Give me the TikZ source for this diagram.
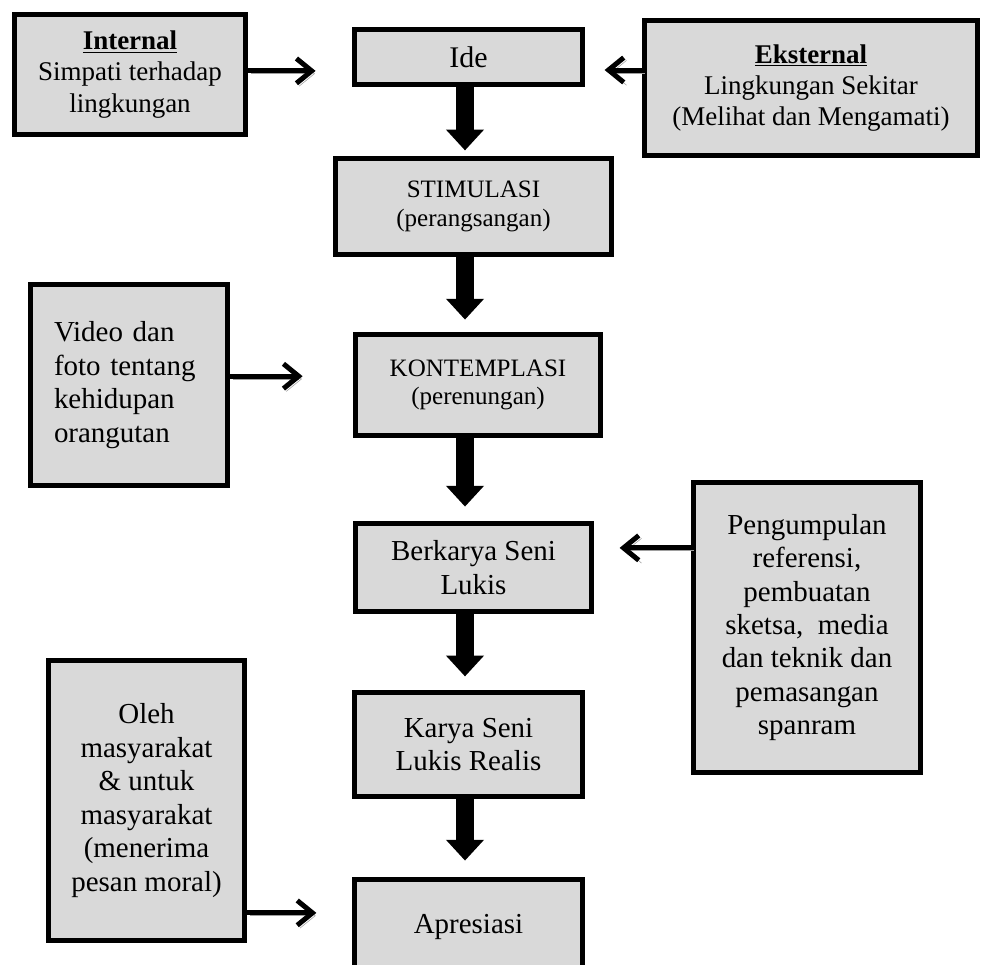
\documentclass[tikz,border=0pt]{standalone}
\usepackage{fontspec}
\setmainfont{Liberation Serif}
\usetikzlibrary{arrows.meta,positioning}
\newcommand{\bodysize}{\fontsize{20.6}{23.8}\selectfont}
\newcommand{\sidesize}{\fontsize{19.2}{22.1}\selectfont}
\newcommand{\stagesize}{\fontsize{17.8}{20.5}\selectfont}
\newcommand{\idesize}{\fontsize{21.3}{24.5}\selectfont}
\tikzstyle{stage} = [draw, line width=0.125cm, fill=black!15, align=center, inner sep=0pt, font=\bodysize]
\tikzstyle{sidenote} = [stage]
\tikzstyle{thickarrow} = [draw, line width=0.44cm, -{Triangle[length=0.52cm,width=0.92cm]}]
\tikzstyle{sidearrow} = [draw, line width=0.125cm, -{Straight Barb[length=0.38cm,width=0.62cm]}, preaction={draw=black!38, transform canvas={shift={(0.07,-0.07)}}}]
\newcommand{\stagebox}[3]{node (m#1) [stage,#2] {#3}}
\newcommand{\sidebox}[3]{node (s#1) [sidenote,#2] {#3}}

\begin{document}
\begin{tikzpicture}
\useasboundingbox (0,0) rectangle (24.55,-24.125);
\coordinate (axis) at (11.625,0);
% main column
\path (11.7125,-1.425) \stagebox{1}{minimum width=5.7cm, minimum height=1.375cm, font=\idesize}{Ide};
\path (m1)+(0.125,-3.7375) \stagebox{2}{minimum width=6.9cm, minimum height=2.4cm, font=\stagesize}{STIMULASI\\(perangsangan)};
\path (m2)+(0.1125,-4.4625) \stagebox{3}{minimum width=6.125cm, minimum height=2.525cm, font=\stagesize}{KONTEMPLASI\\(perenungan)};
\path (m3)+(-0.1125,-4.5625) \stagebox{4}{minimum width=5.9cm, minimum height=2.2cm}{Berkarya Seni\\Lukis};
\path (m4)+(-0.125,-4.425) \stagebox{5}{minimum width=5.7cm, minimum height=2.6cm}{Karya Seni\\Lukis Realis};
\path (m5)+(0.0,-4.5625) \stagebox{6}{minimum width=5.7cm, minimum height=2.375cm}{Apresiasi};

\path [thickarrow, shorten >=0.14cm] (m1.south -| axis) -- (m2.north -| axis);
\path [thickarrow, shorten >=0.31cm] (m2.south -| axis) -- (m3.north -| axis);
\path [thickarrow, shorten >=0.36cm] (m3.south -| axis) -- (m4.north -| axis);
\path [thickarrow, shorten >=0.34cm] (m4.south -| axis) -- (m5.north -| axis);
\path [thickarrow, shorten >=0.41cm] (m5.south -| axis) -- (m6.north -| axis);

% side boxes
\path (m1)+(-8.4625,-0.4375) \sidebox{1}{minimum width=5.775cm, minimum height=3.0cm, font=\sidesize}{\underline{\textbf{Internal}}\\Simpati terhadap\\lingkungan};
\path (m1)+(8.5625,-0.775) \sidebox{2}{minimum width=8.325cm, minimum height=3.375cm, font=\sidesize}{\underline{\textbf{Eksternal}}\\Lingkungan Sekitar\\(Melihat dan Mengamati)};
\path (m3)+(-8.725,0.0) \sidebox{3}{minimum width=4.925cm, minimum height=5.025cm, text width=3.75cm, align=left}{Video dan\\foto tentang\\kehidupan\\orangutan};
\path (m4)+(8.3375,-1.5) \sidebox{4}{minimum width=5.675cm, minimum height=7.25cm}{Pengumpulan\\referensi,\\pembuatan\\sketsa,~ media\\dan teknik dan\\pemasangan\\spanram};
\path (m5)+(-8.05,-1.4) \sidebox{5}{minimum width=4.9cm, minimum height=7.0cm}{Oleh\\masyarakat\\\& untuk\\masyarakat\\(menerima\\pesan moral)};

\path [sidearrow, shorten >=0.91cm] ([yshift=0.09cm]s1.east) -- ([yshift=0.09cm]s1.east -| m1.west);
\path [sidearrow, shorten >=0.49cm] ([yshift=0.45cm]s2.west) -- ([yshift=0.45cm]s2.west -| m1.east);
\path [sidearrow, shorten >=1.26cm] ([yshift=0.22cm]s3.east) -- ([yshift=0.22cm]s3.east -| m3.west);
\path [sidearrow, shorten >=0.64cm] ([yshift=1.99cm]s4.west) -- ([yshift=1.99cm]s4.west -| m4.east);
\path [sidearrow, shorten >=0.89cm] ([yshift=-2.81cm]s5.east) -- ([yshift=-2.81cm]s5.east -| m6.west);
\end{tikzpicture}
\end{document}
